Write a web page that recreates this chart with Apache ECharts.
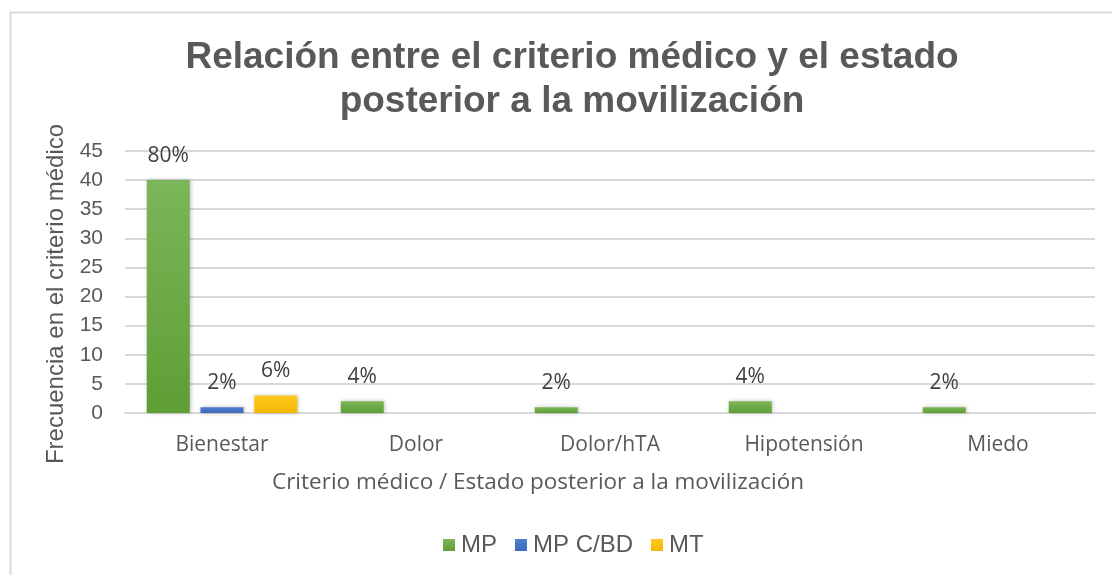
<!DOCTYPE html>
<html>
<head>
<meta charset="utf-8">
<script src="https://cdn.jsdelivr.net/npm/echarts@6/dist/echarts.min.js"></script>
<style>
html, body { margin: 0; padding: 0; background: #fff; }
#chart { width: 1112px; height: 575px; }
</style>
</head>
<body>
<div id="chart"></div>
<script>
// datos
const categorias = ['Bienestar', 'Dolor', 'Dolor/hTA', 'Hipotensión', 'Miedo'];
const mp = [40, 2, 1, 2, 1];
const mpcbd = [1, 0, 0, 0, 0];
const mt = [3, 0, 0, 0, 0];
// etiquetas de porcentaje encima de cada barra
const mpPct = ['80%', '4%', '2%', '4%', '2%'];
const mpcbdPct = ['2%', '', '', '', ''];
const mtPct = ['6%', '', '', '', ''];

const gris = '#595959';
const chart = echarts.init(document.getElementById('chart'));

function serie(nombre, datos, pct, colorArriba, colorAbajo) {
    return {
        name: nombre,
        type: 'bar',
        data: datos,
        barWidth: 43,
        barGap: '25%',
        itemStyle: {
            color: new echarts.graphic.LinearGradient(0, 0, 0, 1, [
                { offset: 0, color: colorArriba },
                { offset: 1, color: colorAbajo }
            ]),
            shadowColor: 'rgba(0,0,0,0.25)',
            shadowBlur: 4,
            shadowOffsetX: 1
        },
        label: {
            show: true,
            position: 'top',
            distance: 14,
            color: '#404040',
            fontSize: 21,
            fontFamily: 'Open Sans',
            formatter: p => pct[p.dataIndex]
        }
    };
}

const option = {
    backgroundColor: '#fff',
    animation: false,
    title: {
        text: 'Relación entre el criterio médico y el estado\nposterior a la movilización',
        left: 567,
        textAlign: 'center',
        top: 31,
        textStyle: {
            color: gris,
            fontWeight: 'bold',
            fontSize: 37,
            fontFamily: 'Liberation Sans',
            lineHeight: 44
        }
    },
    graphic: [{
        type: 'rect',
        left: 8, top: 10,
        shape: { width: 1130, height: 600 },
        style: { fill: 'none', stroke: '#d9d9d9', lineWidth: 2 },
        silent: true
    }],
    legend: {
        bottom: 13,
        left: 438,
        itemWidth: 12,
        itemHeight: 12,
        itemGap: 18,
        icon: 'rect',
        textStyle: { color: gris, fontSize: 24, fontFamily: 'Liberation Sans', padding: [0, 0, 0, 1] },
        data: ['MP', 'MP C/BD', 'MT']
    },
    grid: { left: 125, right: 17, top: 151, bottom: 162 },
    xAxis: {
        type: 'category',
        data: categorias,
        name: 'Criterio médico / Estado posterior a la movilización',
        nameLocation: 'middle',
        nameGap: 58,
        nameTextStyle: {
            color: gris, fontSize: 22.5, fontFamily: 'Open Sans',
            padding: [0, 144, 0, 0]
        },
        axisLine: { lineStyle: { color: '#d9d9d9', width: 2 } },
        axisTick: { show: false },
        axisLabel: { color: gris, fontSize: 21, fontFamily: 'Open Sans', margin: 22 }
    },
    yAxis: {
        type: 'value',
        min: 0,
        max: 45,
        interval: 5,
        name: 'Frecuencia en el criterio médico',
        nameLocation: 'middle',
        nameGap: 45,
        nameTextStyle: {
            color: gris, fontSize: 24, fontFamily: 'Liberation Sans',
            padding: [0, 24, 0, 0]
        },
        axisLine: { show: false },
        axisTick: { show: false },
        axisLabel: { color: gris, fontSize: 21, fontFamily: 'Liberation Sans', margin: 22 },
        splitLine: { lineStyle: { color: '#d9d9d9', width: 2 } }
    },
    color: ['#70AD47', '#4472C4', '#FFC000'],
    series: [
        serie('MP', mp, mpPct, '#7bb659', '#5f9e35'),
        serie('MP C/BD', mpcbd, mpcbdPct, '#4e7cd0', '#3c69bb'),
        serie('MT', mt, mtPct, '#ffc820', '#f5b800')
    ]
};

chart.setOption(option);
</script>
</body>
</html>
